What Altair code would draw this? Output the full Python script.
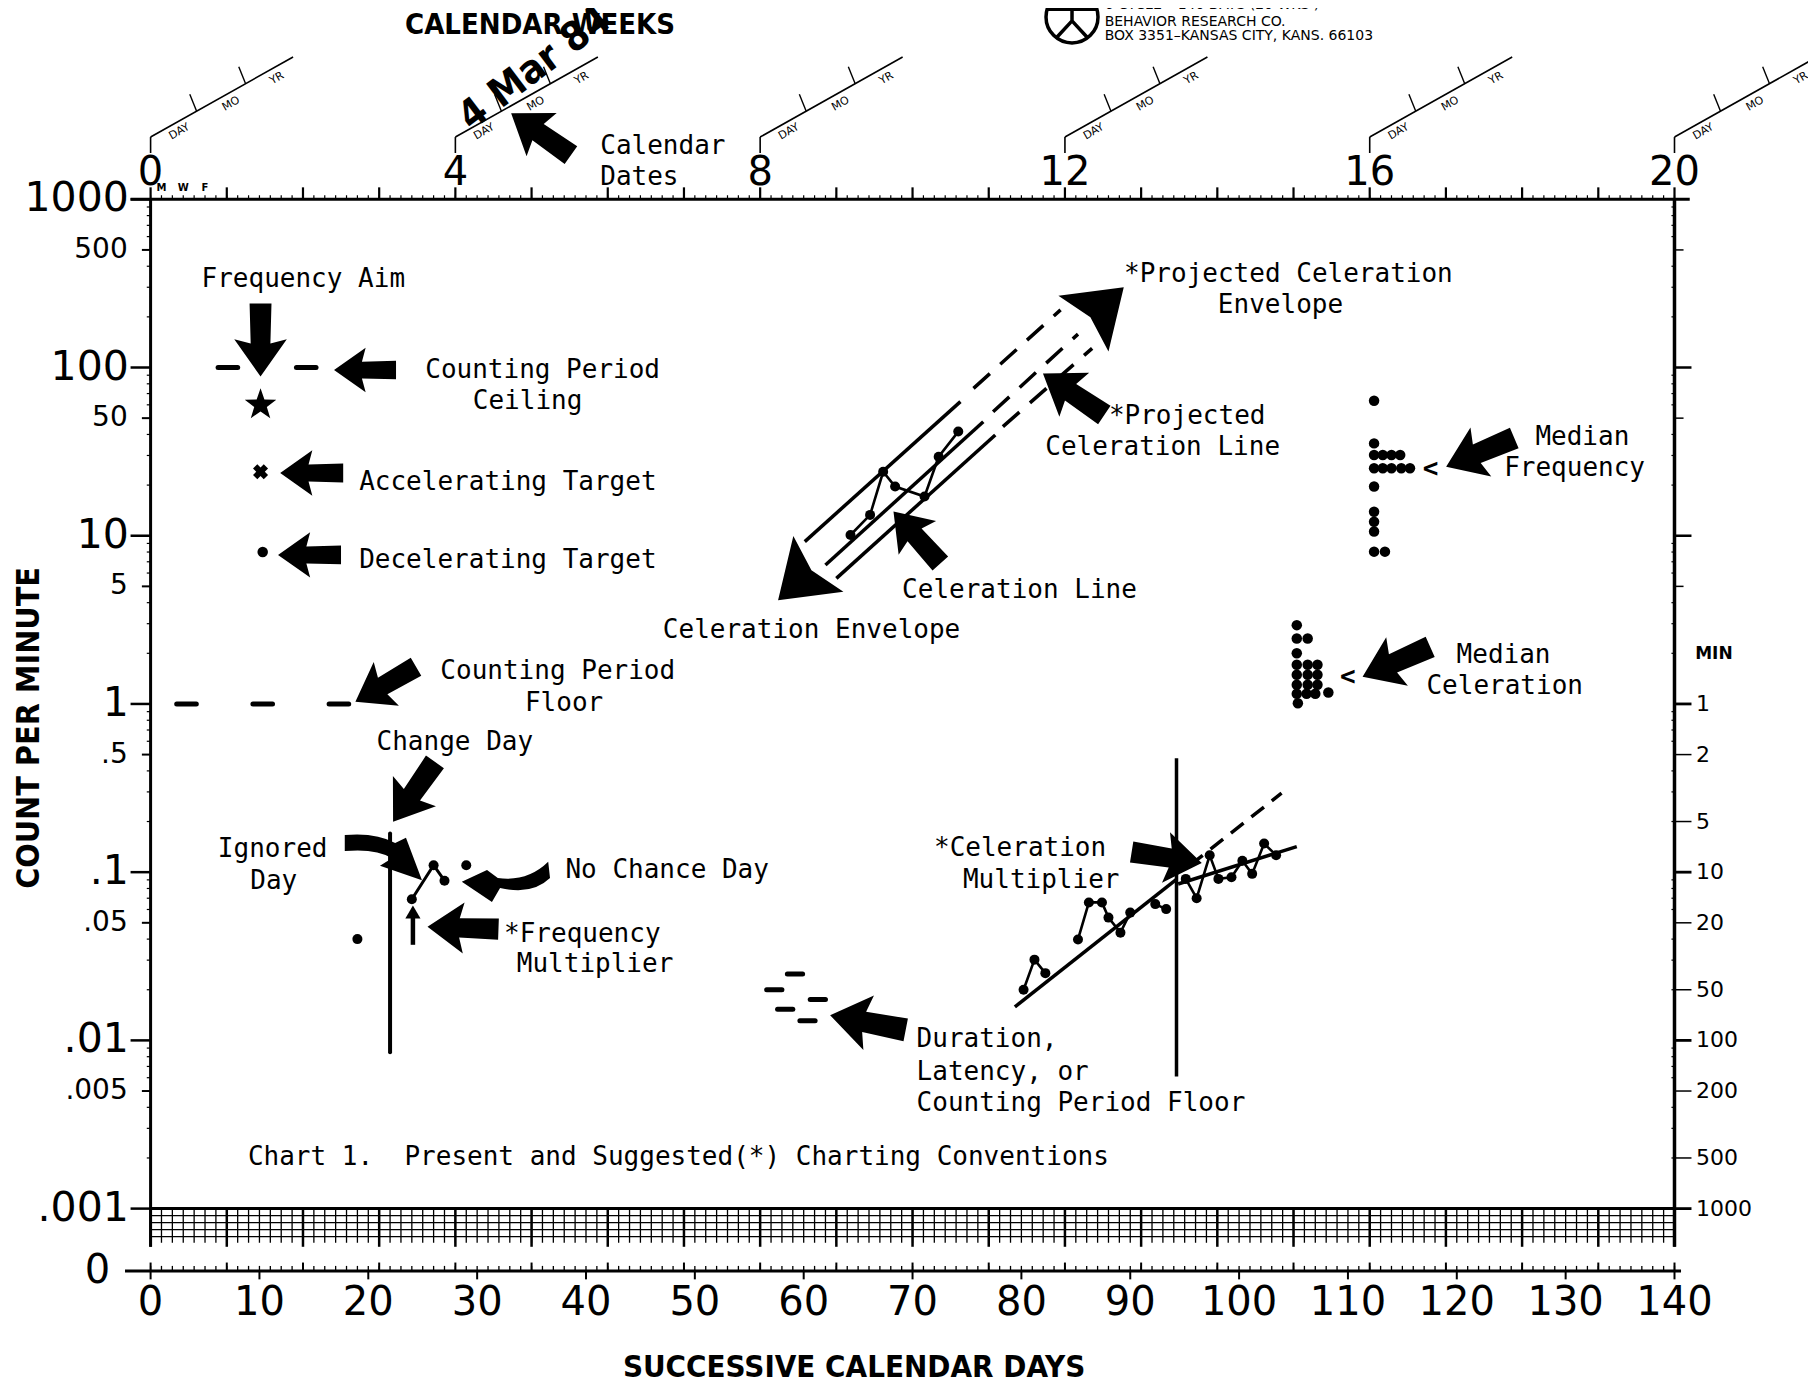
import altair as alt
import numpy as np
import pandas as pd

# ------------------------------------------------------------------
# Values (Standard Celeration Chart)
# ------------------------------------------------------------------
LEFT_MAJOR_VALUES = [1000, 100, 10, 1, 0.1, 0.01, 0.001]
LEFT_MAJOR_LABELS = ["1000", "100", "10", "1", ".1", ".01", ".001"]
LEFT_MINOR_VALUES = [500, 50, 5, 0.5, 0.05, 0.005]
LEFT_MINOR_LABELS = ["500", "50", "5", ".5", ".05", ".005"]
ZERO_ROW_COUNT = 0.000426
MIN_VALUES = [1, 0.5, 0.2, 0.1, 0.05, 0.02, 0.01, 0.005, 0.002, 0.001]
MIN_LABELS = ["1", "2", "5", "10", "20", "50", "100", "200", "500", "1000"]
WEEK_DAYS = [0, 28, 56, 84, 112, 140]
WEEK_LABELS = ["0", "4", "8", "12", "16", "20"]
DAY_TICKS = list(range(0, 141, 10))
DAY_LABELS = [str(d) for d in DAY_TICKS]
MWF_DAYS = [1, 3, 5]
MWF_LABELS = ["M", "W", "F"]

# ceiling / floor / aim / targets
CEILING_DAYS = [7.1, 14.3]
CEILING_COUNT = 100
FLOOR_DAYS = [3.3, 10.3, 17.3]
FLOOR_COUNT = 1
AIM_DAY, AIM_COUNT = 10.1, 60
ACCEL_DAY, ACCEL_COUNT = 10.1, 24
DECEL_DAY, DECEL_COUNT = 10.3, 8

# change-day example
CHANGE_DAY = 22
CHANGE_RANGE = [0.0085, 0.17]
BEFORE_DAYS = [19]
BEFORE_COUNTS = [0.040]
AFTER_DAYS = [24, 26, 27]
AFTER_COUNTS = [0.069, 0.11, 0.089]
NO_CHANCE_DAYS = [29]
NO_CHANCE_COUNTS = [0.11]
FREQ_MULT_DAY = 24.1
FREQ_MULT_RANGE = [0.037, 0.056]

# celeration envelope example
ENV_DAYS = [64.3, 66.1, 67.3, 68.4, 71.1, 72.4, 74.2]
ENV_COUNTS = [10.1, 13.3, 24.0, 19.6, 17.1, 29.5, 41.6]
ENV_LINE_DAY1 = [60.1, 62.0, 63.0]
ENV_LINE_CNT1 = [9.23, 6.70, 5.58]
ENV_LINE_DAY2 = [74.4, 76.5, 77.6]
ENV_LINE_CNT2 = [62.7, 47.6, 39.7]
PROJ_LINE_DAY1 = [75.6, 77.4, 78.3]
PROJ_LINE_CNT1 = [75.2, 54.6, 44.5]
PROJ_LINE_DAY2 = [83.6, 85.2, 86.5]
PROJ_LINE_CNT2 = [220, 158, 130]

# celeration multiplier example
PH1_DAYS = [80.2, 81.2, 82.2, 85.2, 86.2, 87.4, 88.0, 89.1, 90.0, 92.3, 93.3]
PH1_COUNTS = [0.0200, 0.0302, 0.0251, 0.0398, 0.0661, 0.0661, 0.0537, 0.0437, 0.0575, 0.0646, 0.0603]
PH1_GROUPS = ["a", "a", "a", "b", "b", "b", "b", "b", "b", "c", "c"]
PH2_DAYS = [95.1, 96.1, 97.3, 98.1, 99.3, 100.3, 101.2, 102.3, 103.4]
PH2_COUNTS = [0.0912, 0.0700, 0.126, 0.0912, 0.0933, 0.117, 0.0977, 0.148, 0.126]
CEL1_DAYS = [79.4, 94.3]
CEL1_COUNTS = [0.0158, 0.0912]
CEL1_PROJ_DAYS = [95.5, 103.9]
CEL1_PROJ_COUNTS = [0.110, 0.295]
CEL2_DAYS = [94.4, 105.3]
CEL2_COUNTS = [0.085, 0.142]
CHANGE2_DAY = 94.25
CHANGE2_RANGE = [0.0061, 0.475]

# duration / latency floors
DUR_DAYS = [57.3, 58.3, 59.2, 60.35, 61.3]
DUR_COUNTS = [0.0200, 0.0153, 0.0248, 0.0131, 0.0175]

# median frequency and median celeration dot stacks
MEDF_DAYS = [112.4] * 9 + [113.2, 114.0, 114.8, 113.2, 114.0, 114.9, 115.7, 113.4]
MEDF_COUNTS = [63.5, 35.4, 30.2, 25.2, 19.6, 13.9, 12.1, 10.6, 8.04,
               30.2, 30.2, 30.2, 25.2, 25.2, 25.2, 25.2, 8.04]
MEDC_DAYS = [105.3, 105.3, 106.3, 105.3, 105.3, 106.3, 107.2, 105.3, 106.3, 107.2,
             105.3, 106.3, 107.2, 105.3, 106.2, 107.0, 108.2, 105.4]
MEDC_COUNTS = [2.94, 2.45, 2.45, 2.00, 1.71, 1.71, 1.71, 1.49, 1.49, 1.49,
               1.30, 1.30, 1.30, 1.15, 1.15, 1.15, 1.17, 1.01]
MEDIAN_MARK_DAYS = [117.6, 110.0]
MEDIAN_MARK_COUNTS = [24.8, 1.44]

# annotation texts
ANNOT_TEXT = ["Frequency Aim", "Counting Period", "Ceiling", "Accelerating Target",
              "Decelerating Target", "Counting Period", "Floor", "Change Day", "Ignored",
              "Day", "No Chance Day", "*Frequency", "Multiplier", "Calendar", "Dates",
              "Celeration Envelope", "Celeration Line", "*Projected", "Celeration Line",
              "*Projected Celeration", "Envelope", "Median", "Frequency", "Median",
              "Celeration", "*Celeration", "Multiplier", "Duration,", "Latency, or",
              "Counting Period Floor",
              "Chart 1.\u00a0 Present and Suggested(*) Charting Conventions"]
ANNOT_DAY = [4.68, 25.23, 29.60, 19.16, 19.16, 26.62, 34.39, 20.76, 6.18, 9.16,
             38.11, 32.47, 33.64, 41.31, 41.31, 47.06, 69.04, 88.04, 82.19, 89.43,
             98.05, 127.22, 124.35, 119.98, 117.21, 71.97, 74.63, 70.37, 70.37, 70.37,
             8.94]
ANNOT_COUNT = [335, 97.0, 63.2, 20.8, 7.21, 1.57, 1.01, 0.597, 0.137, 0.0891,
               0.103, 0.0430, 0.0284, 2075, 1352, 2.738, 4.775, 51.5, 33.6, 362,
               236, 38.7, 25.2, 1.963, 1.279, 0.1387, 0.0904, 0.01014, 0.0065, 0.00424,
               0.00204]

# pointer arrows
ARROW_DAY = [10.1, 19.7, 14.8, 14.6, 21.6, 24.2, 28.7, 35.87, 70.4, 84.8, 65.9, 93.35, 122.15, 114.45]
ARROW_COUNT = [145.9, 96.6, 23.6, 7.69, 1.31, 0.3006, 0.0466, 2438, 9.77, 69.3, 0.01276, 0.1222, 31.3, 1.78]
ARROW_ANGLE = [90, 180, 180, 180, 150, 125, 182, 215, 228, 214, 191, 9, 157, 156]
ARROW_LEN = [73, 62, 63, 63, 70, 73, 71, 73, 70, 74, 77, 71, 74, 74]

LOGO_LINES = ["6 CYCLE \u2013 140 DAYS (20 WKS )", "BEHAVIOR RESEARCH CO.",
              "BOX 3351\u2013KANSAS CITY, KANS. 66103"]
LOGO_DAY = 87.65
LOGO_COUNTS = [14289, 11324, 9354]

# ------------------------------------------------------------------
# shapes and fonts
# ------------------------------------------------------------------
ARROW_PATH = "M1,0 L-0.02,-0.72 L0.1,-0.27 L-1,-0.3 L-1,0.3 L0.1,0.27 L-0.02,0.72 Z"
HEAD_PATH = "M0,-1 L1,0.45 L0,0.2 L-1,0.45 Z"
IGNORED_PATH = "M-0.98,-0.55 Q-0.2,-0.62 0.28,-0.35 L0.55,-0.48 L0.95,0.58 L-0.1,0.22 L0.2,0.03 Q-0.2,-0.22 -0.98,-0.15 Z"
NOCHANCE_PATH = "M0.96,-0.4 L1,-0.04 Q0.6,0.35 -0.11,0.18 L-0.29,0.49 L-0.96,0.04 L-0.4,-0.22 L-0.16,-0.04 Q0.5,0.05 0.96,-0.4 Z"
STAR_PATH = ("M0,-1 L0.235,-0.324 L0.951,-0.309 L0.38,0.124 L0.588,0.809 L0,0.4 "
             "L-0.588,0.809 L-0.38,0.124 L-0.951,-0.309 L-0.235,-0.324 Z")
LOGO_PATH = ("M1,0 A1,1 0 1,1 -1,0 A1,1 0 1,1 1,0 M-1,-0.3 L1,-0.3 M0,-1 L0,0.15 "
             "M0,0.15 L-0.6,0.8 M0,0.15 L0.6,0.8")

MONO = "DejaVu Sans Mono"
NUM = "DejaVu Sans"
COND = "Liberation Sans Narrow, DejaVu Sans Condensed, Roboto Condensed, Arial Narrow, sans-serif"

XS = alt.Scale(domain=[-13.100, 152.265], nice=False, zero=False)
YS = alt.Scale(type="log", domain=[9.19e-5, 13713.0], nice=False)


def X(f="day"):
    return alt.X(f + ":Q", scale=XS, axis=None)


def Y(f="count"):
    return alt.Y(f + ":Q", scale=YS, axis=None)


layers = []


def seg(d1, c1, d2, c2, width=2.0, dash=None, cap="butt"):
    df = pd.DataFrame({"day": d1, "count": c1, "day2": d2, "count2": c2})
    kw = dict(color="black", strokeWidth=width, strokeCap=cap, opacity=1)
    if dash is not None:
        kw["strokeDash"] = dash
    layers.append(alt.Chart(df).mark_rule(**kw).encode(
        x=X(), y=Y(), x2=alt.X2("day2:Q"), y2=alt.Y2("count2:Q")))


def txt(days, counts, labels, size, font, align="left", baseline="middle",
        weight="normal", angle=None):
    df = pd.DataFrame({"day": days, "count": counts, "label": labels})
    kw = dict(align=align, baseline=baseline, font=font, fontSize=size,
              fontWeight=weight, color="black")
    if angle is not None:
        kw["angle"] = angle
    layers.append(alt.Chart(df).mark_text(**kw).encode(x=X(), y=Y(), text="label:N"))


def sym(days, counts, shapes, angles, sizes, filled=True, sw=0.0):
    df = pd.DataFrame({"day": days, "count": counts, "shape": shapes,
                       "angle": angles, "size": sizes})
    layers.append(alt.Chart(df).mark_point(filled=filled, color="black", opacity=1,
                                           strokeWidth=sw).encode(
        x=X(), y=Y(),
        shape=alt.Shape("shape:N", scale=None),
        angle=alt.Angle("angle:Q", scale=None),
        size=alt.Size("size:Q", scale=None)))


def dots(days, counts, size=100):
    df = pd.DataFrame({"day": days, "count": counts})
    layers.append(alt.Chart(df).mark_circle(size=size, color="black", opacity=1).encode(
        x=X(), y=Y()))


def line(days, counts, groups=None, width=3.0):
    df = pd.DataFrame({"day": days, "count": counts,
                       "grp": groups if groups is not None else ["g"] * len(days)})
    layers.append(alt.Chart(df).mark_line(color="black", strokeWidth=width).encode(
        x=X(), y=Y(), detail="grp:N"))


# ------------------------------------------------------------------
# chart frame
# ------------------------------------------------------------------
days_all = list(range(0, 141))
weeks = list(range(0, 141, 7))
n_d, n_w = len(days_all), len(weeks)
top = 1000.0
seg([-1.84], [top], [141.4], [top], width=3)
seg(days_all, [top] * n_d, days_all, [top * 10 ** 0.024] * n_d, width=1.2)
seg(weeks, [top] * n_w, weeks, [top * 10 ** 0.071] * n_w, width=2.2)
grid_bottom = 10 ** -3.227
seg([0], [top], [0], [grid_bottom], width=3)
seg([140], [top], [140], [grid_bottom], width=3.5)

# left axis ticks
seg([-1.84] * 7, LEFT_MAJOR_VALUES, [0] * 7, LEFT_MAJOR_VALUES, width=2.5)
seg([-0.8] * 6, LEFT_MINOR_VALUES, [0] * 6, LEFT_MINOR_VALUES, width=2)
SUB = [k * 10.0 ** e for e in range(-3, 3) for k in (2, 3, 4, 6, 7, 8, 9)]
seg([-0.35] * len(SUB), SUB, [0] * len(SUB), SUB, width=1.2)
seg([139.72] * len(SUB), SUB, [140] * len(SUB), SUB, width=1.2)
# right axis ticks
seg([140] * 2, [100, 10], [141.56] * 2, [100, 10], width=2.5)
seg([140] * 3, [500, 50, 5], [140.83] * 3, [500, 50, 5], width=1.5)
MIN_MAJOR = [v for v in MIN_VALUES if v in (1, 0.1, 0.01, 0.001)]
MIN_MINOR = [v for v in MIN_VALUES if v not in (1, 0.1, 0.01, 0.001)]
seg([140] * len(MIN_MAJOR), MIN_MAJOR, [141.56] * len(MIN_MAJOR), MIN_MAJOR, width=2.8)
seg([140] * len(MIN_MINOR), MIN_MINOR, [141.56] * len(MIN_MINOR), MIN_MINOR, width=1.5)

# bottom grid (below .001)
GRID_ROWS = [10 ** -3.0, 10 ** -3.042, 10 ** -3.083, 10 ** -3.125, 10 ** -3.167]
seg([0], [GRID_ROWS[0]], [140], [GRID_ROWS[0]], width=3)
seg([0] * 4, GRID_ROWS[1:], [140] * 4, GRID_ROWS[1:], width=1.3)
seg(days_all, [10 ** -3.0] * n_d, days_all, [10 ** -3.203] * n_d, width=1.3)
seg(weeks, [10 ** -3.0] * n_w, weeks, [grid_bottom] * n_w, width=2.5)

# zero row
Z = ZERO_ROW_COUNT
seg([-2.35], [Z], [140.6], [Z], width=3)
seg(days_all, [Z] * n_d, days_all, [Z * 10 ** 0.03] * n_d, width=1.3)
seg(weeks, [Z] * n_w, weeks, [Z * 10 ** 0.05] * n_w, width=2)
seg(DAY_TICKS, [Z] * len(DAY_TICKS), DAY_TICKS, [Z / 10 ** 0.05] * len(DAY_TICKS), width=2)

# calendar-date stubs above each 4th week
for d in WEEK_DAYS:
    seg([d], [1884], [d], [2344], width=1.6)
    seg([d], [2344], [d + 13.09], [7015], width=1.6)
    seg([d + 4.23, d + 8.73], [3342, 4864], [d + 3.6, d + 8.1], [4217, 6138], width=1.4)
    txt([d + 2.65, d + 7.40, d + 11.61], [2523, 3690, 5236], ["DAY", "MO", "YR"],
        11, NUM, align="center", angle=330)

# axis labels
txt([-2.0] * 7, LEFT_MAJOR_VALUES, LEFT_MAJOR_LABELS, 41, NUM, align="right")
txt([-2.1] * 6, LEFT_MINOR_VALUES, LEFT_MINOR_LABELS, 28, NUM, align="right")
txt([-3.7], [Z], ["0"], 40, NUM, align="right")
txt([141.97] * len(MIN_VALUES), MIN_VALUES, MIN_LABELS, 22, NUM)
txt([141.9], [1.98], ["MIN"], 17, NUM, weight="bold")
txt(WEEK_DAYS, [1216] * len(WEEK_DAYS), WEEK_LABELS, 40, NUM, align="center",
    baseline="alphabetic")
txt(DAY_TICKS, [2.333e-4] * len(DAY_TICKS), DAY_LABELS, 40, NUM, align="center",
    baseline="alphabetic")
txt(MWF_DAYS, [1167] * 3, MWF_LABELS, 10, NUM, align="center", weight="bold")
txt([-11.17], [0.72], ["COUNT PER MINUTE"], 32, COND, align="center", weight="bold", angle=270)
txt([64.63], [1.13e-4], ["SUCCESSIVE CALENDAR DAYS"], 31, COND, align="center", weight="bold")
txt([35.78], [10864], ["CALENDAR WEEKS"], 29, COND, align="center", weight="bold")
txt([35.3], [6000], ["4 Mar 84"], 40, COND, align="center", weight="bold", angle=323)

# logo block
sym([84.65], [12134], [LOGO_PATH], [0], [2704], filled=False, sw=3.5)
txt([LOGO_DAY] * 3, LOGO_COUNTS, LOGO_LINES, 14, NUM)

# ------------------------------------------------------------------
# data marks
# ------------------------------------------------------------------
HALF = 0.9
seg([d - HALF for d in CEILING_DAYS], [CEILING_COUNT] * 2,
    [d + HALF for d in CEILING_DAYS], [CEILING_COUNT] * 2, width=5, cap="round")
seg([d - HALF for d in FLOOR_DAYS], [FLOOR_COUNT] * 3,
    [d + HALF for d in FLOOR_DAYS], [FLOOR_COUNT] * 3, width=5, cap="round")
seg([d - 0.7 for d in DUR_DAYS], DUR_COUNTS, [d + 0.7 for d in DUR_DAYS], DUR_COUNTS,
    width=5, cap="round")

sym([AIM_DAY], [AIM_COUNT], [STAR_PATH], [0], [1100])
sym([ACCEL_DAY], [ACCEL_COUNT], ["cross"], [45], [230])
dots([DECEL_DAY], [DECEL_COUNT], size=110)

# change-day example
seg([CHANGE_DAY], [CHANGE_RANGE[0]], [CHANGE_DAY], [CHANGE_RANGE[1]], width=4, cap="round")
dots(BEFORE_DAYS, BEFORE_COUNTS)
line(AFTER_DAYS, AFTER_COUNTS)
dots(AFTER_DAYS, AFTER_COUNTS)
dots(NO_CHANCE_DAYS, NO_CHANCE_COUNTS)
seg([FREQ_MULT_DAY], [FREQ_MULT_RANGE[0]], [FREQ_MULT_DAY], [FREQ_MULT_RANGE[1]], width=4.5)
sym([FREQ_MULT_DAY], [0.058], ["triangle-up"], [0], [230])

# envelope example
seg(ENV_LINE_DAY1, ENV_LINE_CNT1, ENV_LINE_DAY2, ENV_LINE_CNT2, width=3.5)
seg(PROJ_LINE_DAY1, PROJ_LINE_CNT1, PROJ_LINE_DAY2, PROJ_LINE_CNT2, width=3.5, dash=[22, 14])
line(ENV_DAYS, ENV_COUNTS, width=2.6)
dots(ENV_DAYS, ENV_COUNTS)
sym([60.2, 86.85], [5.83, 212.8], [HEAD_PATH] * 2, [228, 48], [5600, 5600])

# celeration multiplier example
seg([CHANGE2_DAY], [CHANGE2_RANGE[0]], [CHANGE2_DAY], [CHANGE2_RANGE[1]], width=3.5)
seg([CEL1_DAYS[0]], [CEL1_COUNTS[0]], [CEL1_DAYS[1]], [CEL1_COUNTS[1]], width=3.5)
seg([CEL1_PROJ_DAYS[0]], [CEL1_PROJ_COUNTS[0]], [CEL1_PROJ_DAYS[1]], [CEL1_PROJ_COUNTS[1]],
    width=3.5, dash=[16, 10])
seg([CEL2_DAYS[0]], [CEL2_COUNTS[0]], [CEL2_DAYS[1]], [CEL2_COUNTS[1]], width=3.5)
line(PH1_DAYS, PH1_COUNTS, PH1_GROUPS, width=2.6)
dots(PH1_DAYS, PH1_COUNTS)
line(PH2_DAYS, PH2_COUNTS, width=2.6)
dots(PH2_DAYS, PH2_COUNTS)

# medians
dots(MEDF_DAYS, MEDF_COUNTS, size=110)
dots(MEDC_DAYS, MEDC_COUNTS, size=110)
txt(MEDIAN_MARK_DAYS, MEDIAN_MARK_COUNTS, ["<", "<"], 26, MONO, align="center", weight="bold")

# arrows
sym(ARROW_DAY, ARROW_COUNT, [ARROW_PATH] * len(ARROW_DAY), ARROW_ANGLE,
    [l * l for l in ARROW_LEN])
sym([21.44, 32.56], [0.123, 0.090], [IGNORED_PATH, NOCHANCE_PATH], [0, 0], [6400, 8100])

# annotation text
txt(ANNOT_DAY, ANNOT_COUNT, ANNOT_TEXT, 26, MONO)

chart = alt.layer(*layers).properties(
    width=1800, height=1375, padding=0,
    autosize=alt.AutoSizeParams(type="none"),
    background="white",
).configure_view(stroke=None)

chart.save("out.html", embed_options={"renderer": "svg", "actions": False})
